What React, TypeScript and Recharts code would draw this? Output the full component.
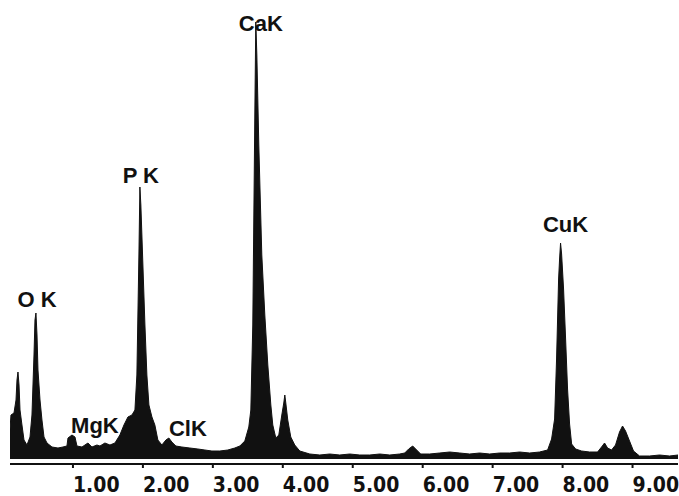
import React from 'react'
import { AreaChart, Area, XAxis, YAxis, ReferenceDot } from 'recharts'

// energy (keV) and counts
const energyKeV = [
  0.1, 0.114, 0.157, 0.186, 0.2, 0.214, 0.229, 0.243, 0.271, 0.3, 0.343, 0.386, 0.414, 0.443, 0.457, 0.471,
  0.486, 0.5, 0.529, 0.557, 0.586, 0.629, 0.7, 0.786, 0.857, 0.914, 0.929, 0.986, 1.029, 1.057, 1.129,
  1.214, 1.271, 1.343, 1.386, 1.457, 1.529, 1.6, 1.671, 1.729, 1.786, 1.843, 1.886, 1.914, 1.943, 1.957,
  1.971, 2.0, 2.029, 2.057, 2.086, 2.129, 2.171, 2.214, 2.271, 2.329, 2.371, 2.414, 2.471, 2.557, 2.671,
  2.786, 2.886, 2.986, 3.1, 3.214, 3.314, 3.386, 3.457, 3.514, 3.543, 3.571, 3.6, 3.614, 3.629, 3.657,
  3.7, 3.743, 3.786, 3.829, 3.857, 3.9, 3.943, 3.986, 4.014, 4.029, 4.043, 4.071, 4.114, 4.171, 4.243,
  4.386, 4.529, 4.671, 4.814, 4.957, 5.1, 5.243, 5.386, 5.529, 5.671, 5.743, 5.8, 5.857, 5.914, 5.971,
  6.1, 6.243, 6.386, 6.529, 6.671, 6.814, 6.957, 7.1, 7.243, 7.386, 7.529, 7.671, 7.786, 7.843, 7.886,
  7.914, 7.943, 7.957, 7.971, 7.986, 8.014, 8.043, 8.071, 8.1, 8.129, 8.186, 8.271, 8.386, 8.5, 8.557,
  8.6, 8.643, 8.7, 8.757, 8.814, 8.857, 8.9, 8.957, 9.014, 9.1, 9.243, 9.386, 9.529, 9.65,
]
const counts = [
  30, 44, 46, 59, 79, 87, 74, 49, 34, 19, 14, 22, 44, 104, 139, 146,
  124, 89, 59, 39, 22, 16, 12, 11, 12, 13, 21, 24, 22, 13, 12,
  16, 12, 14, 13, 16, 14, 16, 24, 34, 42, 44, 49, 84, 204, 272,
  254, 194, 134, 84, 54, 42, 34, 19, 14, 19, 21, 17, 13, 12, 11,
  10, 9, 8, 8, 9, 11, 13, 18, 32, 49, 134, 344, 437, 404, 314,
  204, 144, 94, 54, 34, 21, 24, 44, 56, 64, 56, 39, 22, 14, 8,
  5, 4, 5, 4, 5, 4, 4, 5, 4, 5, 6, 10, 13, 9, 5,
  5, 6, 7, 6, 5, 6, 5, 6, 6, 7, 6, 7, 9, 20, 40,
  100, 180, 200, 216, 205, 170, 120, 70, 35, 15, 10, 8, 7, 7, 12,
  16, 11, 9, 14, 27, 33, 28, 18, 8, 3, 3, 4, 3, 4,
]

const tickValues = [1, 2, 3, 4, 5, 6, 7, 8, 9]

const peakNames = ['O K', 'MgK', 'P K', 'ClK', 'CaK', 'CuK']
const peakLabelEnergy = [0.486, 1.314, 1.971, 2.643, 3.686, 8.043]
const peakLabelHeight = [152, 26, 276, 23, 428, 227]

const spectrum = energyKeV.map((e, i) => ({ energy: e, counts: counts[i] }))

if (typeof document !== 'undefined') document.body.style.margin = '0'

const fontStack = '"Liberation Sans", Arial, sans-serif'

function EnergyTick({ x, y, payload }: any) {
  return (
    <text
      x={x}
      y={y + 22}
      textAnchor="start"
      fontSize={21}
      fontWeight="bold"
      fontFamily='"DejaVu Sans Condensed", "Liberation Sans Narrow", sans-serif'
      fill="#111"
    >
      {Number(payload.value).toFixed(2)}
    </text>
  )
}

export default function App() {
  return (
    <div style={{ width: 679, height: 496, background: '#fff' }}>
      <AreaChart
        width={679}
        height={496}
        data={spectrum}
        margin={{ top: 15, right: 1, bottom: 0, left: 10 }}
      >
        <XAxis
          dataKey="energy"
          type="number"
          domain={[0.1, 9.65]}
          ticks={tickValues}
          allowDataOverflow
          height={32}
          stroke="#111"
          strokeWidth={2}
          tickSize={4}
          tickMargin={2}
          tick={<EnergyTick />}
        />
        <YAxis hide type="number" domain={[-5, 444]} allowDataOverflow />
        <Area
          type="linear"
          dataKey="counts"
          baseValue={0}
          stroke="#111"
          strokeWidth={1}
          fill="#111"
          fillOpacity={1}
          dot={false}
          activeDot={false}
          isAnimationActive={false}
        />
        {peakNames.map((name, i) => (
          <ReferenceDot
            key={name}
            x={peakLabelEnergy[i]}
            y={peakLabelHeight[i]}
            r={0}
            ifOverflow="visible"
            shape={(p: any) => (
              <text
                x={p.cx}
                y={p.cy}
                textAnchor="middle"
                fontSize={22}
                fontWeight="bold"
                fontFamily={fontStack}
                fill="#111"
              >
                {name}
              </text>
            )}
          />
        ))}
      </AreaChart>
    </div>
  )
}
